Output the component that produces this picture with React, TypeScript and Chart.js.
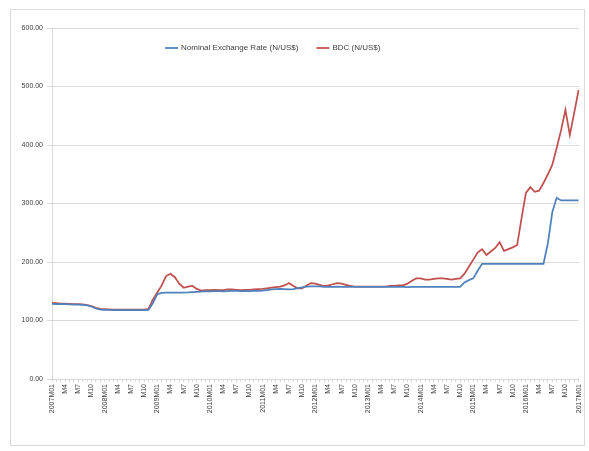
import React, { useEffect, useRef } from "react";
import { Chart, registerables } from "chart.js";

Chart.register(...registerables);

const startYear = 2007;
const endYear = 2017;

const seriesNames = ["Nominal Exchange Rate (N/US$)", "BDC (N/US$)"];
const seriesColors = ["#4f81bd", "#c0504d"];

// Monthly values 2007M01 .. 2017M01
const nominal2007 = [128.5, 128.2, 128.0, 127.9, 127.6, 127.3, 127.0, 126.5, 126.0, 124.0, 120.5, 118.5];
const nominal2008 = [118.3, 118.0, 117.8, 117.8, 117.7, 117.8, 117.8, 117.7, 117.8, 117.8, 118.0, 130.0];
const nominal2009 = [145.0, 147.2, 147.5, 147.6, 147.6, 147.6, 147.8, 148.0, 148.5, 149.0, 149.5, 150.0];
const nominal2010 = [150.0, 150.2, 150.1, 150.0, 150.4, 150.6, 150.5, 150.4, 150.5, 150.3, 150.5, 150.7];
const nominal2011 = [151.0, 152.0, 153.0, 153.5, 154.0, 153.5, 153.0, 153.5, 155.5, 156.5, 158.0, 158.4];
const nominal2012 = [158.2, 158.3, 157.6, 157.5, 157.5, 157.8, 157.4, 157.4, 157.3, 157.3, 157.3, 157.3];
const nominal2013 = [157.4, 157.3, 157.3, 157.3, 157.3, 157.3, 157.3, 157.3, 157.3, 157.2, 157.3, 157.3];
const nominal2014 = [157.3, 157.3, 157.3, 157.3, 157.3, 157.3, 157.3, 157.3, 157.3, 157.3, 165.0, 169.0];
const nominal2015 = [172.0, 185.0, 197.0, 197.0, 197.0, 197.0, 197.0, 197.0, 197.0, 197.0, 197.0, 197.0];
const nominal2016 = [197.0, 197.0, 197.0, 197.0, 197.0, 232.0, 285.0, 309.7, 305.2, 305.2, 305.2, 305.2];
const nominal2017 = [305.2];

const bdc2007 = [130.0, 129.5, 129.0, 129.0, 128.5, 128.0, 127.8, 127.5, 126.5, 124.5, 121.5, 120.0];
const bdc2008 = [119.5, 119.0, 118.5, 118.5, 118.8, 118.5, 118.5, 118.5, 118.6, 118.8, 120.0, 136.0];
const bdc2009 = [148.0, 160.0, 176.0, 180.0, 174.0, 163.0, 156.0, 158.0, 159.0, 154.0, 151.0, 152.0];
const bdc2010 = [152.0, 152.5, 152.0, 152.0, 153.0, 153.0, 152.5, 152.0, 152.5, 152.5, 153.0, 153.5];
const bdc2011 = [154.0, 155.0, 156.0, 157.0, 158.0, 160.0, 164.0, 159.0, 155.0, 155.0, 160.0, 164.0];
const bdc2012 = [163.0, 161.0, 159.0, 160.0, 162.0, 164.0, 163.0, 161.0, 159.0, 158.0, 158.0, 158.0];
const bdc2013 = [158.0, 158.0, 158.0, 158.0, 158.0, 159.0, 159.0, 160.0, 160.0, 163.0, 168.0, 172.0];
const bdc2014 = [172.0, 170.0, 170.0, 171.0, 172.0, 172.0, 171.0, 170.0, 171.0, 172.0, 180.0, 192.0];
const bdc2015 = [204.0, 216.0, 222.0, 212.0, 218.0, 224.0, 234.0, 219.0, 222.0, 225.0, 229.0, 275.0];
const bdc2016 = [318.0, 328.0, 320.0, 322.0, 335.0, 350.0, 366.0, 395.0, 425.0, 460.0, 417.0, 455.0];
const bdc2017 = [494.0];

const nominalValues = [
  ...nominal2007, ...nominal2008, ...nominal2009, ...nominal2010, ...nominal2011,
  ...nominal2012, ...nominal2013, ...nominal2014, ...nominal2015, ...nominal2016, ...nominal2017,
];
const bdcValues = [
  ...bdc2007, ...bdc2008, ...bdc2009, ...bdc2010, ...bdc2011,
  ...bdc2012, ...bdc2013, ...bdc2014, ...bdc2015, ...bdc2016, ...bdc2017,
];

const monthLabels: string[] = [];
for (let y = startYear; y <= endYear; y++) {
  for (let m = 1; m <= 12; m++) {
    if (y === endYear && m > 1) break;
    monthLabels.push(m === 1 ? `${y}M01` : `M${m}`);
  }
}

const W = 589;
const H = 451;
const FONT = "'Liberation Sans', Arial, sans-serif";

const framePlugin = {
  id: "frame",
  beforeDraw(chart: any) {
    const ctx = chart.ctx;
    ctx.save();
    ctx.fillStyle = "#ffffff";
    ctx.fillRect(0, 0, chart.width, chart.height);
    ctx.strokeStyle = "#d9d9d9";
    ctx.lineWidth = 1;
    ctx.strokeRect(10.5, 9.5, 574, 436);
    ctx.restore();
  },
};

// Legend drawn inside the plot area, as in the original
const insideLegendPlugin = {
  id: "insideLegend",
  afterDraw(chart: any) {
    const ctx = chart.ctx;
    const area = chart.chartArea;
    ctx.save();
    ctx.font = `8px ${FONT}`;
    ctx.textBaseline = "middle";
    ctx.fillStyle = "#404040";
    const lineLen = 13;
    const gapText = 3;
    const gapItem = 18;
    const widths = chart.data.datasets.map((d: any) => ctx.measureText(d.label).width);
    let x = area.left + 113;
    const y = area.top + 20;
    chart.data.datasets.forEach((d: any, i: number) => {
      ctx.strokeStyle = d.borderColor;
      ctx.lineWidth = 1.75;
      ctx.beginPath();
      ctx.moveTo(x, y);
      ctx.lineTo(x + lineLen, y);
      ctx.stroke();
      ctx.fillText(d.label, x + lineLen + gapText, y);
      x += lineLen + gapText + widths[i] + gapItem;
    });
    ctx.restore();
  },
};

export default function App() {
  const ref = useRef<HTMLCanvasElement | null>(null);

  useEffect(() => {
    if (!ref.current) return;
    const chart = new Chart(ref.current, {
      type: "line",
      data: {
        labels: monthLabels,
        datasets: [
          {
            label: seriesNames[0],
            data: nominalValues,
            borderColor: seriesColors[0],
            backgroundColor: seriesColors[0],
            borderWidth: 1.75,
            pointRadius: 0,
            tension: 0,
          },
          {
            label: seriesNames[1],
            data: bdcValues,
            borderColor: seriesColors[1],
            backgroundColor: seriesColors[1],
            borderWidth: 1.75,
            pointRadius: 0,
            tension: 0,
          },
        ],
      },
      options: {
        animation: false,
        responsive: false,
        maintainAspectRatio: false,
        layout: { padding: { left: 0, right: 9, top: 28, bottom: 0 } },
        plugins: {
          tooltip: { enabled: false },
          legend: { display: false },
        },
        scales: {
          x: {
            type: "category",
            offset: false,
            afterFit(s: any) {
              s.height = 72;
            },
            grid: {
              drawOnChartArea: false,
              drawTicks: true,
              tickLength: 3,
              color: "#d9d9d9",
            },
            border: { display: true, color: "#d9d9d9" },
            ticks: {
              autoSkip: false,
              minRotation: 90,
              maxRotation: 90,
              padding: 2,
              color: "#404040",
              font: { family: FONT, size: 7 },
              callback: (_v: any, i: number) => (i % 3 === 0 ? monthLabels[i] : ""),
            },
          },
          y: {
            min: 0,
            max: 600,
            afterFit(s: any) {
              s.width = 52;
            },
            grid: {
              color: "#d9d9d9",
              drawTicks: true,
              tickLength: 5,
            },
            border: { display: true, color: "#d9d9d9" },
            ticks: {
              stepSize: 100,
              padding: 4,
              color: "#404040",
              font: { family: FONT, size: 7 },
              callback: (v: any) => Number(v).toFixed(2),
            },
          },
        },
      },
      plugins: [framePlugin, insideLegendPlugin],
    });
    return () => chart.destroy();
  }, []);

  return (
    <div style={{ position: "fixed", left: 0, top: 0, width: W, height: H, background: "#fff" }}>
      <canvas ref={ref} width={W} height={H} style={{ display: "block", width: W, height: H }} />
    </div>
  );
}
